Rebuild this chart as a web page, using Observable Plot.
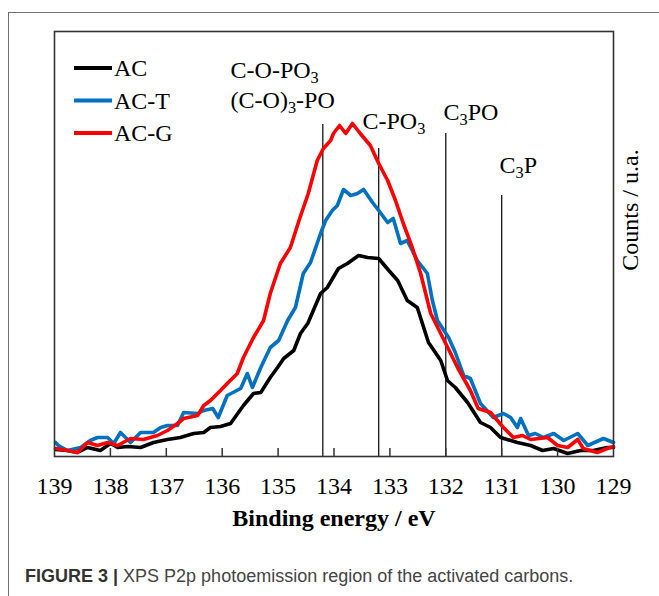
<!DOCTYPE html>
<html>
<head>
<meta charset="utf-8">
<script src="https://cdn.jsdelivr.net/npm/d3@7"></script>
<script src="https://cdn.jsdelivr.net/npm/@observablehq/plot@0.6"></script>
<style>
  html, body { margin: 0; padding: 0; background: #fff; overflow: hidden; width: 659px; height: 596px; }
  #fig { position: relative; width: 659px; height: 596px; }
  #chart { position: absolute; left: 0; top: 0; }
  #border { position: absolute; left: 8px; top: 12px; width: 700px; height: 620px;
            border-left: 1.5px solid #707070; border-top: 1.5px solid #707070; pointer-events: none; }
  #caption { position: absolute; left: 25px; top: 566px; white-space: nowrap;
             font-family: "Liberation Sans", Arial, sans-serif; font-size: 18px; color: #444; }
  #caption b { color: #333; }
</style>
</head>
<body>
<div id="fig">
  <div id="chart"></div>
  <div id="border"></div>
  <div id="caption"><b>FIGURE 3 |</b> XPS P2p photoemission region of the activated carbons.</div>
</div>
<script>
// Samples and their line colours
const samples = ["AC", "AC-T", "AC-G"];
const sampleColors = ["#000000", "#0070C0", "#FF0000"];

// P2p spectra: binding energy (eV) and counts (a.u.)
const acEnergy = [138.98,138.77,138.59,138.41,138.18,138.00,137.87,137.69,137.46,137.23,136.98,136.75,136.51,136.33,136.21,136.03,135.85,135.62,135.44,135.31,135.14,135.01,134.90,134.72,134.60,134.47,134.37,134.24,134.12,133.92,133.76,133.56,133.40,133.20,133.02,132.86,132.69,132.51,132.31,132.09,131.97,131.83,131.61,131.38,131.20,131.02,130.72,130.48,130.27,130.07,129.82,129.59,129.36,129.11,129.00];
const acCounts = [7,6,4,9,6,13,9,10,9,14,17,19,23,24,29,30,33,51,63,64,79,89,98,106,123,133,146,163,169,188,193,201,199,198,186,176,156,149,114,96,76,69,54,34,29,19,14,11,6,8,3,6,6,9,9];

const actEnergy = [138.98,138.93,138.77,138.53,138.36,138.23,138.05,137.94,137.82,137.64,137.46,137.23,137.10,136.98,136.80,136.69,136.44,136.33,136.17,136.07,135.91,135.67,135.55,135.46,135.31,135.14,134.99,134.83,134.69,134.55,134.42,134.24,134.15,134.03,133.94,133.83,133.70,133.58,133.47,133.31,133.20,133.04,132.94,132.81,132.69,132.51,132.33,132.24,132.15,131.95,131.83,131.68,131.56,131.38,131.15,130.97,130.84,130.72,130.66,130.52,130.40,130.25,130.07,129.89,129.64,129.46,129.18,129.00];
const actCounts = [14,11,6,9,16,19,19,13,24,14,24,24,29,31,31,44,43,46,48,39,61,68,83,69,89,109,116,136,149,183,194,223,236,246,251,267,261,263,267,254,246,234,238,213,216,196,183,156,136,119,104,81,78,53,39,43,39,29,38,21,23,19,23,16,23,11,18,14];

const acgEnergy = [138.98,138.77,138.59,138.41,138.23,138.05,137.87,137.64,137.41,137.16,136.98,136.80,136.69,136.44,136.33,136.21,136.03,135.91,135.73,135.62,135.44,135.26,135.14,134.96,134.78,134.62,134.46,134.30,134.19,134.06,134.01,133.90,133.79,133.67,133.53,133.35,133.20,133.04,132.90,132.76,132.60,132.45,132.27,132.01,131.79,131.56,131.42,131.20,130.97,130.79,130.63,130.48,130.18,130.00,129.82,129.64,129.54,129.29,129.11,129.00];
const acgCounts = [8,6,4,14,11,14,11,18,17,21,26,33,38,41,51,56,66,73,83,99,119,136,163,193,209,237,263,296,308,316,323,331,323,333,323,311,293,276,256,233,209,183,143,114,89,66,48,44,29,19,21,17,19,11,9,17,8,4,8,10];

// Component assignments: binding energy of each reference line and the height it reaches
const assignEnergy = [134.2, 133.2, 132.0, 131.0];
const assignTop = [332, 308, 323, 261];

// Component labels ("_3" marks a subscript 3) with their anchor energy and height
const labelText = ["C-O-PO_3", "(C-O)_3-PO", "C-PO_3", "C_3PO", "C_3P"];
const labelEnergy = [135.85, 135.85, 133.49, 132.04, 131.04];
const labelLevel = [386, 356, 335, 344, 291];

// Axis ticks
const xTicks = [139, 138, 137, 136, 135, 134, 133, 132, 131, 130, 129];

const series = [
  [samples[0], acEnergy, acCounts],
  [samples[1], actEnergy, actCounts],
  [samples[2], acgEnergy, acgCounts]
];
const rows = series.flatMap(([sample, e, c]) => e.map((energy, i) => ({sample, energy, counts: c[i]})));
const labels = labelText.map((text, i) => ({text, energy: labelEnergy[i], level: labelLevel[i]}));

const W = 659, H = 540, mT = 31, mB = 84, mL = 54, mR = 46;
const serif = "'Liberation Serif', 'Times New Roman', serif";

const chart = Plot.plot({
  width: W, height: H,
  marginTop: mT, marginBottom: mB, marginLeft: mL, marginRight: mR,
  style: {fontFamily: serif, background: "transparent", color: "#000", overflow: "visible"},
  x: {domain: [139, 129]},
  y: {domain: [0, 425], axis: null},
  color: {domain: samples, range: sampleColors},
  marks: [
    Plot.ruleX(assignEnergy, {x: d => d, y1: 0, y2: assignTop, stroke: "#000", strokeWidth: 1.2}),
    Plot.line(rows, {x: "energy", y: "counts", z: "sample", stroke: "sample",
                     strokeWidth: 3.6, strokeLinejoin: "round", strokeLinecap: "round"}),
    Plot.frame({stroke: "#333", strokeWidth: 1.6}),
    Plot.tickX(xTicks.slice(1, -1), {x: d => d, insetTop: H - mT - mB - 8, stroke: "#333", strokeWidth: 1.5}),
    Plot.axisX({ticks: xTicks, tickFormat: d => String(d), tickSize: 0, tickPadding: 20,
                fontSize: 24, label: null}),
    Plot.text(["Binding energy / eV"], {frameAnchor: "bottom", dy: 69, fontSize: 24, fontWeight: "bold"}),
    Plot.text(labels, {x: "energy", y: "level", text: "text", textAnchor: "start", fontSize: 24})
  ]
});

const svg = d3.select(chart);

// Render "_3" as a subscript; the following run is shifted back to the baseline
svg.selectAll("text").filter(function () { return /_\d/.test(this.textContent); }).each(function () {
  const el = d3.select(this);
  const parts = el.text().split(/_(\d)/);
  el.text(null);
  let afterSub = false;
  parts.forEach((p, i) => {
    if (!p) return;
    if (i % 2 === 1) {
      el.append("tspan").attr("font-size", "0.68em").attr("dy", "0.28em").text(p);
      afterSub = true;
    } else {
      const t = el.append("tspan").text(p);
      if (afterSub) t.attr("dy", "-0.19em");
      afterSub = false;
    }
  });
});

// Vertical axis title on the right of the frame
svg.append("text")
  .attr("transform", `translate(${W - mR + 17},210) rotate(-90)`)
  .attr("text-anchor", "middle").attr("dy", "0.34em")
  .attr("font-family", serif).attr("font-size", 24).attr("fill", "#000")
  .text("Counts / u.a.");

// Legend inside the plot area
const legend = svg.append("g").attr("font-family", serif).attr("font-size", 24).attr("text-anchor", "start");
const legendY = [68, 100.5, 133];
samples.forEach((s, i) => {
  legend.append("line").attr("x1", 74).attr("x2", 112).attr("y1", legendY[i]).attr("y2", legendY[i])
    .attr("stroke", sampleColors[i]).attr("stroke-width", 4);
  legend.append("text").attr("x", 114).attr("y", legendY[i]).attr("dy", "0.34em").attr("fill", "#000").text(s);
});

document.getElementById("chart").appendChild(chart);
</script>
</body>
</html>
